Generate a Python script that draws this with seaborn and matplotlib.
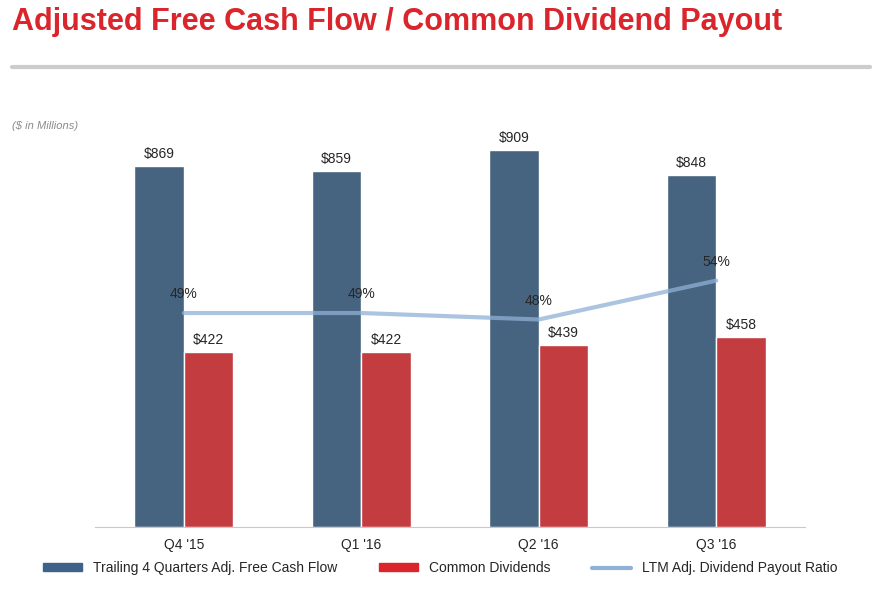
import matplotlib
matplotlib.use("Agg")
import matplotlib.pyplot as plt
import seaborn as sns
import pandas as pd
from matplotlib.lines import Line2D
from matplotlib.patches import Patch

quarters = ["Q4 '15", "Q1 '16", "Q2 '16", "Q3 '16"]
free_cash_flow = [869, 859, 909, 848]
dividends = [422, 422, 439, 458]
payout_ratio = [49, 49, 48, 54]

BLUE = "#3d6488"
RED = "#d9252b"
LINE = "#8fb1d6"

sns.set_style("white")
plt.rcParams["font.family"] = ["Liberation Sans", "DejaVu Sans"]

df = pd.DataFrame({
    "quarter": quarters * 2,
    "value": free_cash_flow + dividends,
    "series": ["fcf"] * 4 + ["div"] * 4,
})

fig = plt.figure(figsize=(8.77, 5.89), dpi=100)
ax = fig.add_axes([95 / 877, 62 / 589, 710 / 877, 415 / 589])
sns.barplot(data=df, x="quarter", y="value", hue="series", palette=[BLUE, RED],
            width=0.56, ax=ax, legend=False)
ax.set_xlim(-0.5, 3.5)
ax.set_ylim(0, 1000)
ax.set_xlabel("")
ax.set_ylabel("")
ax.set_yticks([])
ax.tick_params(axis="x", length=0, labelsize=10, pad=8)
for s in ["top", "right", "left"]:
    ax.spines[s].set_visible(False)
ax.spines["bottom"].set_color("#f0b8b8")

for i, (f, d) in enumerate(zip(free_cash_flow, dividends)):
    ax.text(i - 0.14, f + 12, f"${f}", ha="center", va="bottom", fontsize=10)
    ax.text(i + 0.14, d + 12, f"${d}", ha="center", va="bottom", fontsize=10)

ax2 = ax.twinx()
ax2.set_ylim(16, 80)
ax2.plot(range(4), payout_ratio, color=LINE, lw=3, alpha=0.75)
for i, p in enumerate(payout_ratio):
    ax2.text(i, p + 1.8, f"{p}%", ha="center", va="bottom", fontsize=10)
ax2.axis("off")

fig.text(12 / 877, 1 - 22 / 589, "Adjusted Free Cash Flow / Common Dividend Payout",
         color="#d9252b", fontsize=22, fontweight="bold", va="center")
fig.add_artist(Line2D([12 / 877, 870 / 877], [1 - 67 / 589] * 2, color="#cccccc", lw=3))
fig.text(12 / 877, 1 - 126 / 589, "($ in Millions)", color="#8a8a8a", fontsize=8,
         style="italic", va="center")

handles = [Patch(color=BLUE), Patch(color=RED), Line2D([], [], color=LINE, lw=3)]
labels = ["Trailing 4 Quarters Adj. Free Cash Flow", "Common Dividends",
          "LTM Adj. Dividend Payout Ratio"]
fig.legend(handles, labels, loc="center", bbox_to_anchor=(440 / 877, 1 - 568 / 589),
           ncol=3, frameon=False, fontsize=10, handlelength=2.8, handleheight=0.5,
           columnspacing=3)

fig.savefig("out.png", dpi=100)
